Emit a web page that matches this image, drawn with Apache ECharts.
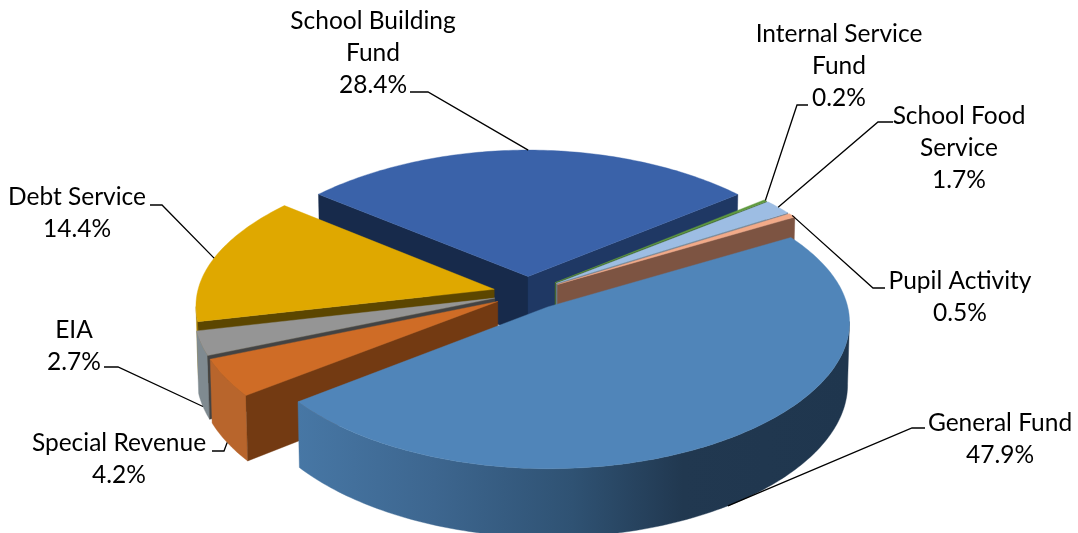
<!DOCTYPE html>
<html>
<head>
<meta charset="utf-8">
<style>html,body{margin:0;padding:0;background:#fff}#chart{width:1078px;height:533px}</style>
<script src="https://cdn.jsdelivr.net/npm/echarts@6/dist/echarts.min.js"></script>
</head>
<body>
<div id="chart"></div>
<script>
// Fund shares, in pie order (clockwise from the upper right)
const categories = ['General Fund', 'Special Revenue', 'EIA', 'Debt Service', 'School Building\nFund', 'Internal Service\nFund', 'School Food\nService', 'Pupil Activity'];
const shares = [47.9, 4.2, 2.7, 14.4, 28.4, 0.2, 1.7, 0.5];

// Back-to-front paint order of the exploded wedges
const paintRank = [7, 6, 5, 4, 0, 1, 2, 3];

// Surface colours per wedge
const topColors = ['#5085b9', '#cf6c26', '#959595', '#dfa800', '#3a62a9', '#5f9a3e', '#9dbde3', '#f2aa88'];
const rimColors = ['#4777a5', '#b8652c', '#7f8a90', '#a87f00', '#1f3864', '#3f6329', '#6f7f90', '#7d5442'];
const startWallColors = ['#2e4f70', '#733a12', '#434343', '#5c4600', '#172a4b', '#3f6329', '#6f7f90', '#7d5442'];
const endWallColors = ['#2e4f70', '#733a12', '#434343', '#5c4600', '#1f3864', '#3f6329', '#6f7f90', '#7d5442'];

// Label anchors and leader elbows, per wedge
const labelAnchors = [[1000, 439], [119, 459], [74, 346], [77, 213], [373, 53], [839, 66], [959, 148], [960, 297]];
const leaderElbows = [
  [[925, 428], [912, 428]],
  [[212, 451], [224, 451]],
  [[104, 367], [118, 367]],
  [[150, 205], [162, 205]],
  [[410, 92], [428, 92]],
  [[808, 105], [797, 105]],
  [[893, 122], [878, 122]],
  [[885, 288], [873, 288]]
];

// Pie geometry
const startAngle = 59.8;   // degrees clockwise from the far side
const centre = [528, 293];
const radius = 297;        // horizontal radius at mid-depth
const tilt = 142.4;        // vertical radius at mid-depth
const widthNear = 0.11;    // horizontal growth towards the viewer
const widthCurve = 0.02;
const perspectiveY = 0.101;
const thickness = 61;
const wallTaper = 0.006;   // walls narrow slightly towards the lower rim
const explode = 0.117;

const rad = d => d * Math.PI / 180;

// Cumulative wedge extents in degrees
const extents = [];
shares.reduce((acc, v) => {
  const total = shares.reduce((a, b) => a + b, 0);
  const from = acc, to = acc + v / total * 360;
  extents.push([from, to]);
  return to;
}, startAngle);

function project(i, r, deg, z) {
  const mid = (extents[i][0] + extents[i][1]) / 2;
  const X = explode * Math.sin(rad(mid)) + r * Math.sin(rad(deg));
  const Y = -explode * Math.cos(rad(mid)) - r * Math.cos(rad(deg));
  const sx = (1 - wallTaper * z) * (1 + widthNear * Y - widthCurve * Y * Y);
  const sy = 1 / (1 - perspectiveY * Y);
  return [centre[0] + radius * X * sx, centre[1] + (tilt * Y + thickness * z) * sy];
}

function shoelace(pts) {
  let a = 0;
  pts.forEach((p, k) => {
    const q = pts[(k + 1) % pts.length];
    a += p[0] * q[1] - q[0] * p[1];
  });
  return a;
}

function arcAngles(from, to) {
  const out = [];
  const n = Math.max(2, Math.ceil(to - from));
  for (let k = 0; k <= n; k++) out.push(from + (to - from) * k / n);
  return out;
}

function rimFill(i) {
  if (i === 0) {
    return new echarts.graphic.LinearGradient(297, 0, 848, 0, [
      { offset: 0, color: '#4777a5' },
      { offset: 0.25, color: '#3d668f' },
      { offset: 0.5, color: '#2f5273' },
      { offset: 0.7, color: '#213850' },
      { offset: 1, color: '#1f364e' }
    ], true);
  }
  return rimColors[i];
}

function renderWedge(params, api) {
  const i = params.dataIndex;
  const share = api.value(0);
  const from = extents[i][0];
  const to = from + share / 100 * 360;
  const base = paintRank[i] * 10;
  const children = [];
  const poly = (points, fill, z2) => children.push({
    type: 'polygon', silent: true, z2,
    shape: { points }, style: { fill, stroke: fill, lineWidth: 0.4 }
  });

  const angles = arcAngles(from, to);

  // Outer wall: only the stretches of arc that face the viewer
  let run = [];
  const flush = () => {
    if (run.length > 1) {
      const topEdge = run.map(d => project(i, 1, d, 0));
      const lowEdge = run.map(d => project(i, 1, d, 1)).reverse();
      poly(topEdge.concat(lowEdge), rimFill(i), base + 1);
    }
    run = [];
  };
  angles.forEach((d, k) => {
    if (k === 0) { run.push(d); return; }
    const facing = project(i, 1, d, 0)[0] < project(i, 1, angles[k - 1], 0)[0];
    if (facing) {
      if (!run.length) run.push(angles[k - 1]);
      run.push(d);
    } else {
      flush();
    }
  });
  flush();

  // Radial walls, culled by winding
  const wall = d => [project(i, 0, d, 0), project(i, 1, d, 0), project(i, 1, d, 1), project(i, 0, d, 1)];
  const startWall = wall(from);
  const endWall = wall(to);
  if (shoelace(startWall) < 0) poly(startWall, startWallColors[i], base + 2);
  if (shoelace(endWall) > 0) poly(endWall, endWallColors[i], base + 2);

  // Top face
  poly([project(i, 0, from, 0)].concat(angles.map(d => project(i, 1, d, 0))), topColors[i], base + 3);

  // Leader line and label; near-side wedges attach at the lower rim
  const mid = (from + to) / 2;
  const tip = project(i, 1, mid, Math.cos(rad(mid)) < 0 ? 1 : 0);
  children.push({
    type: 'polyline', silent: true, z2: 200,
    shape: { points: leaderElbows[i].concat([tip]) },
    style: { fill: 'none', stroke: '#000', lineWidth: 1.3 }
  });
  children.push({
    type: 'text', silent: true, z2: 210,
    style: {
      text: categories[i] + '\n' + share.toFixed(1) + '%',
      x: labelAnchors[i][0], y: labelAnchors[i][1],
      align: 'center', verticalAlign: 'middle',
      font: '24.5px Lato', lineHeight: 32, fill: '#000'
    }
  });
  return { type: 'group', children };
}

const chart = echarts.init(document.getElementById('chart'), null, { renderer: 'canvas' });
chart.setOption({
  animation: false,
  backgroundColor: '#fff',
  series: [{
    type: 'custom',
    coordinateSystem: 'none',
    silent: true,
    clip: false,
    renderItem: renderWedge,
    data: shares.map(v => [v])
  }]
});
</script>
</body>
</html>
